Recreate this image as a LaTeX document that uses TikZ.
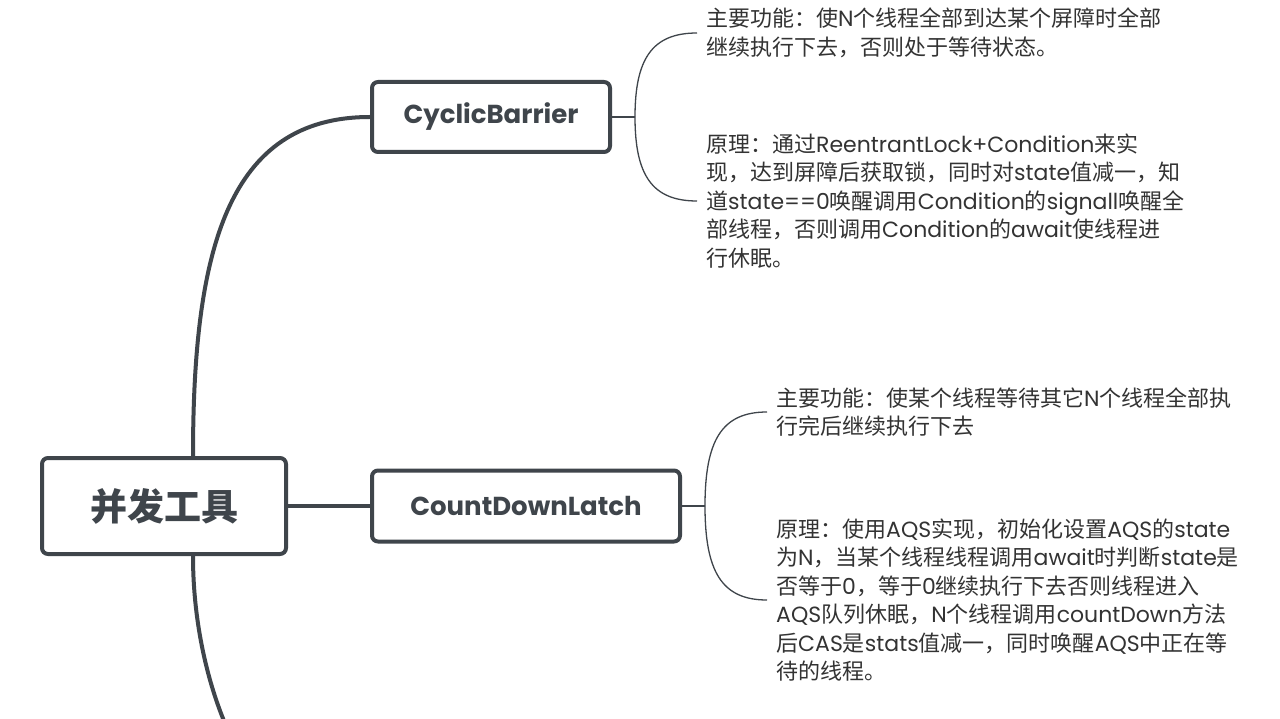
\documentclass[tikz,border=0pt]{standalone}
\usepackage{fontspec}
\setmainfont{Noto Sans CJK SC}
\newfontfamily\latinfont{Poppins}
\newcommand\la[1]{{\latinfont #1}}
\usetikzlibrary{calc}
\definecolor{ink}{HTML}{3F454B}
\definecolor{txt}{HTML}{333333}
\tikzset{
  box/.style={draw=ink, line width=4pt, rounded corners=6pt, fill=white, text=ink, inner sep=0pt, font=\bfseries},
  mainline/.style={draw=ink, line width=4pt},
  brace/.style={draw=ink, line width=1.3pt},
  note/.style={anchor=west, align=left, text=txt, inner xsep=9pt, inner ysep=0pt, font=\fontsize{22}{28.5}\selectfont},
}
\begin{document}
\begin{tikzpicture}[x=1pt,y=-1pt]
\useasboundingbox (0,0) rectangle (1280,719);
\fill[white] (0,0) rectangle (1280,719);

\node[box, minimum width=244pt, minimum height=96pt, font=\bfseries\fontsize{37}{40}\selectfont] (root) at (164,506) {并发工具};
\node[box, minimum width=238pt, minimum height=70pt, font=\latinfont\bfseries\fontsize{26}{30}\selectfont] (cb) at (491,117) {CyclicBarrier};
\node[box, minimum width=308pt, minimum height=71pt, font=\latinfont\bfseries\fontsize{26}{30}\selectfont] (cdl) at (526,506) {CountDownLatch};

\coordinate (next) at (372,850);
\draw[mainline] ($(root.north)+(29,0)$) .. controls +(0,-207) and +(-142,0) .. (cb.west);
\draw[mainline] (root.east) -- (cdl.west);
\draw[mainline] ($(root.south)+(29,0)$) .. controls +(0,141) and +(-112,0) .. (next);

% CyclicBarrier notes
\node[note] (cb1) at (697,33) {主要功能：使\la{N}个线程全部到达某个屏障时全部\\继续执行下去，否则处于等待状态。};
\node[note] (cb2) at (697,201) {原理：通过\la{ReentrantLock+Condition}来实\\现，达到屏障后获取锁，同时对\la{state}值减一，知\\道\la{state==0}唤醒调用\la{Condition}的\la{signall}唤醒全\\部线程，否则调用\la{Condition}的\la{await}使线程进\\行休眠。};
\draw[brace] (cb.east) -- ++(23,0) coordinate (cbj);
\draw[brace] (cbj) .. controls +(0,-58) and +(-45,0) .. (cb1.west);
\draw[brace] (cbj) .. controls +(0,58) and +(-45,0) .. (cb2.west);

% CountDownLatch notes
\node[note] (cd1) at (767,412) {主要功能：使某个线程等待其它\la{N}个线程全部执\\行完后继续执行下去};
\node[note] (cd2) at (767,600) {原理：使用\la{AQS}实现，初始化设置\la{AQS}的\la{state}\\为\la{N}，当某个线程线程调用\la{await}时判断\la{state}是\\否等于\la{0}，等于\la{0}继续执行下去否则线程进入\\\la{AQS}队列休眠，\la{N}个线程调用\la{countDown}方法\\后\la{CAS}是\la{stats}值减一，同时唤醒\la{AQS}中正在等\\待的线程。};
\draw[brace] (cdl.east) -- ++(23,0) coordinate (cdj);
\draw[brace] (cdj) .. controls +(0,-66) and +(-45,0) .. (cd1.west);
\draw[brace] (cdj) .. controls +(0,66) and +(-45,0) .. (cd2.west);
\end{tikzpicture}
\end{document}
